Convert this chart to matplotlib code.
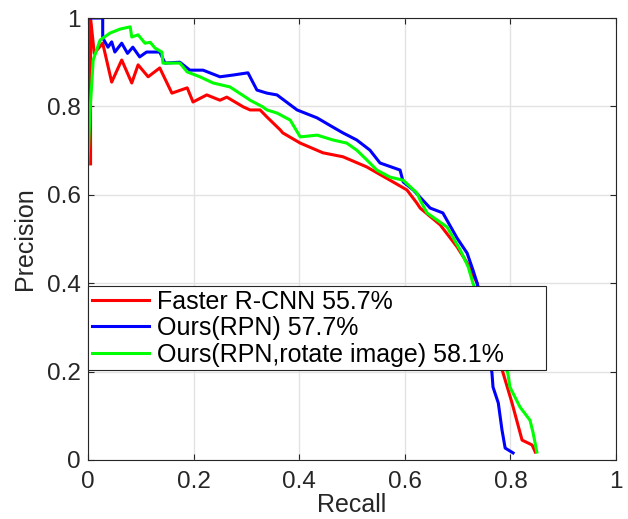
import matplotlib
matplotlib.use("Agg")
import matplotlib.pyplot as plt

plt.rcParams['font.family'] = ['Liberation Sans', 'DejaVu Sans']

# precision-recall curves
frcnn_recall = [0.005, 0.005, 0.012, 0.028, 0.045, 0.064, 0.083, 0.095, 0.114, 0.136, 0.159,
                0.188, 0.199, 0.225, 0.25, 0.263, 0.294, 0.307, 0.326, 0.339, 0.364, 0.369,
                0.402, 0.445, 0.483, 0.528, 0.572, 0.604, 0.623, 0.629, 0.667, 0.699, 0.718,
                0.737, 0.76, 0.786, 0.803, 0.822, 0.841, 0.847]
frcnn_prec = [0.67, 1.0, 0.92, 0.943, 0.855, 0.905, 0.853, 0.894, 0.867, 0.887, 0.83,
              0.842, 0.81, 0.826, 0.814, 0.821, 0.799, 0.792, 0.792, 0.776, 0.747, 0.74,
              0.717, 0.695, 0.686, 0.663, 0.633, 0.611, 0.581, 0.57, 0.532, 0.482, 0.446,
              0.40, 0.30, 0.197, 0.129, 0.045, 0.034, 0.018]

rpn_recall = [0.0, 0.028, 0.028, 0.038, 0.045, 0.051, 0.064, 0.075, 0.085, 0.098, 0.111, 0.136,
              0.146, 0.174, 0.193, 0.218, 0.25, 0.275, 0.303, 0.32, 0.339, 0.358, 0.396,
              0.434, 0.464, 0.483, 0.509, 0.534, 0.553, 0.591, 0.597, 0.616, 0.648, 0.672,
              0.699, 0.718, 0.729, 0.737, 0.75, 0.765, 0.767, 0.777, 0.784, 0.79, 0.805]
rpn_prec = [1.0, 1.0, 0.955, 0.934, 0.946, 0.923, 0.943, 0.92, 0.934, 0.912, 0.923, 0.923,
            0.898, 0.9, 0.882, 0.882, 0.867, 0.871, 0.876, 0.837, 0.83, 0.826, 0.792,
            0.774, 0.753, 0.74, 0.724, 0.701, 0.672, 0.656, 0.629, 0.611, 0.57, 0.559,
            0.502, 0.468, 0.43, 0.40, 0.30, 0.197, 0.165, 0.129, 0.068, 0.027, 0.016]

rot_recall = [0.0, 0.004, 0.01, 0.023, 0.042, 0.061, 0.08, 0.083, 0.095, 0.108, 0.118, 0.127,
              0.14, 0.142, 0.174, 0.188, 0.212, 0.237, 0.269, 0.301, 0.307, 0.331, 0.339,
              0.358, 0.383, 0.402, 0.434, 0.464, 0.49, 0.509, 0.528, 0.547, 0.572, 0.597,
              0.623, 0.629, 0.642, 0.68, 0.705, 0.72, 0.729, 0.76, 0.795, 0.799, 0.818,
              0.837, 0.843, 0.85]
rot_prec = [0.67, 0.79, 0.905, 0.95, 0.966, 0.975, 0.98, 0.957, 0.962, 0.943, 0.945, 0.932,
            0.923, 0.898, 0.898, 0.878, 0.867, 0.853, 0.844, 0.819, 0.814, 0.799, 0.792,
            0.785, 0.769, 0.731, 0.735, 0.724, 0.717, 0.701, 0.679, 0.656, 0.64, 0.633,
            0.604, 0.588, 0.559, 0.527, 0.475, 0.437, 0.40, 0.30, 0.197, 0.165, 0.12,
            0.09, 0.061, 0.018]

labels = ['Faster R-CNN 55.7%', 'Ours(RPN) 57.7%', 'Ours(RPN,rotate image) 58.1%']
ticks = [0, 0.2, 0.4, 0.6, 0.8, 1]
tick_labels = ['0', '0.2', '0.4', '0.6', '0.8', '1']

fig = plt.figure(figsize=(6.28, 5.19), dpi=100)
ax = fig.add_axes([0.140, 0.1137, 0.841, 0.8516])

ax.plot(frcnn_recall, frcnn_prec, color='#ff0000', lw=2.2, label=labels[0])
ax.plot(rpn_recall, rpn_prec, color='#0000ff', lw=2.2, label=labels[1])
ax.plot(rot_recall, rot_prec, color='#00ff00', lw=2.2, label=labels[2])

ax.set_xlim(0, 1)
ax.set_ylim(0, 1)
ax.set_xticks(ticks)
ax.set_xticklabels(tick_labels)
ax.set_yticks(ticks)
ax.set_yticklabels(tick_labels)
ax.grid(True, color='#e3e3e3', lw=1)
ax.set_axisbelow(True)
ax.tick_params(direction='in', length=4, width=0.8, colors='#262626', labelsize=17.5,
               top=True, right=True, pad=5)
ax.tick_params(axis='x', pad=8)
for s in ax.spines.values():
    s.set_color('#262626')
    s.set_linewidth(0.8)
ax.set_xlabel('Recall', fontsize=18, color='#262626', labelpad=0)
ax.set_ylabel('Precision', fontsize=18, color='#262626', labelpad=7)

leg = ax.legend(loc='upper left', bbox_to_anchor=(0.0, 0.204, 0.867, 0.19), mode='expand',
                borderaxespad=0, fontsize=18, frameon=True, fancybox=False,
                handlelength=2.3, handletextpad=0.3, labelspacing=0.1, borderpad=0.15)
leg.get_frame().set_edgecolor('#262626')
leg.get_frame().set_linewidth(0.8)
leg.get_frame().set_alpha(1)

fig.savefig('out.png', dpi=100)
